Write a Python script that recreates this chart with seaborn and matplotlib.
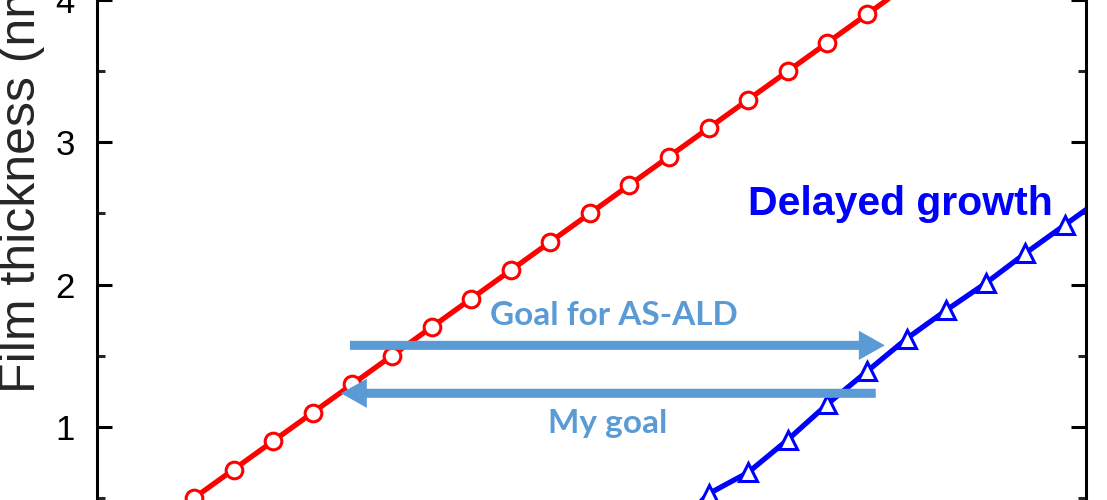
import matplotlib
matplotlib.use('Agg')
import matplotlib.pyplot as plt
from matplotlib.ticker import MultipleLocator
import seaborn as sns

# growth per cycle
red_cycles = list(range(2, 22))
red_thickness = [0.3, 0.5, 0.7, 0.9, 1.1, 1.3, 1.5, 1.7, 1.9, 2.1,
                 2.3, 2.5, 2.7, 2.9, 3.1, 3.3, 3.5, 3.7, 3.9, 4.1]

blue_cycles = list(range(15, 27))
blue_thickness = [0.25, 0.53, 0.68, 0.91, 1.16, 1.39, 1.62, 1.82,
                  2.01, 2.22, 2.42, 2.62]

y_ticks = [1, 2, 3, 4]

ARROW_COLOR = '#5B9BD5'

sns.set_style('white')
plt.rcParams['font.family'] = ['Liberation Sans', 'DejaVu Sans']

fig = plt.figure(figsize=(11.07, 5.0), dpi=100)
ax = fig.add_axes([0.0876, 0.0, 0.8934, 1.0])

sns.lineplot(x=red_cycles, y=red_thickness, ax=ax, color='red', linewidth=3.8,
             marker='o', markersize=12, markerfacecolor='white',
             markeredgecolor='red', markeredgewidth=2.2)
sns.lineplot(x=blue_cycles, y=blue_thickness, ax=ax, color='blue', linewidth=3.8,
             marker='^', markersize=13, markerfacecolor='white',
             markeredgecolor='blue', markeredgewidth=2.2)

ax.set_xlim(0.55, 25.53)
ax.set_ylim(0.486, 4.0)
ax.set_yticks(y_ticks)
ax.yaxis.set_minor_locator(MultipleLocator(0.5))
ax.set_xticks([])

for side in ['top', 'bottom']:
    ax.spines[side].set_visible(False)
for side in ['left', 'right']:
    ax.spines[side].set_visible(True)
    ax.spines[side].set_linewidth(2.2)
    ax.spines[side].set_color('black')

ax.tick_params(axis='y', which='major', direction='in', length=11, width=2.2,
               left=True, right=True, labelsize=25, pad=16, colors='black')
ax.tick_params(axis='y', which='minor', direction='in', length=5.5, width=2.2,
               left=True, right=True)

ax.set_ylabel('Film thickness (nm)', fontsize=36)
ax.yaxis.set_label_coords(-0.0526, 0.647)

# arrows
arrow_style = 'simple,head_length=1.87,head_width=2.1,tail_width=0.65'
ax.annotate('', xy=(20.45, 1.573), xytext=(6.94, 1.573),
            arrowprops=dict(arrowstyle=arrow_style, color=ARROW_COLOR,
                            mutation_scale=10, shrinkA=0, shrinkB=0, lw=0))
ax.annotate('', xy=(6.71, 1.236), xytext=(20.22, 1.236),
            arrowprops=dict(arrowstyle=arrow_style, color=ARROW_COLOR,
                            mutation_scale=10, shrinkA=0, shrinkB=0, lw=0))

ax.text(13.60, 1.716, 'Goal for AS-ALD', ha='center', va='baseline',
        fontsize=24, fontweight='bold', color=ARROW_COLOR, family=['Lato', 'DejaVu Sans'])
ax.text(13.44, 0.955, 'My goal', ha='center', va='baseline',
        fontsize=24, fontweight='bold', color=ARROW_COLOR, family=['Lato', 'DejaVu Sans'])
ax.text(20.83, 2.489, 'Delayed growth', ha='center', va='baseline',
        fontsize=29.5, fontweight='bold', color='blue')

fig.savefig('out.png', dpi=100)
